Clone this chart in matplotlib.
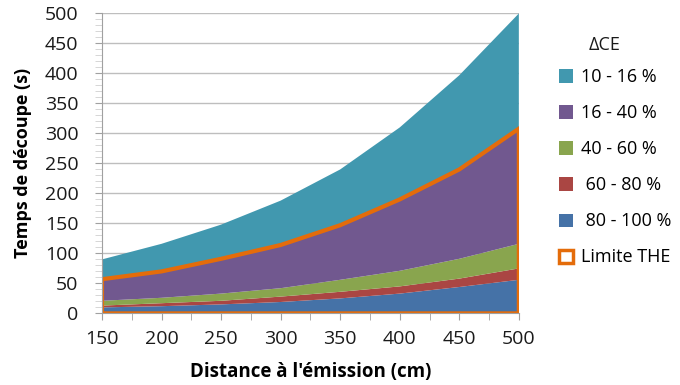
import matplotlib
matplotlib.use("Agg")
import matplotlib.pyplot as plt
from matplotlib.patches import Patch
from matplotlib.ticker import MultipleLocator
import numpy as np

plt.rcParams['font.family'] = ['Open Sans', 'DejaVu Sans']

distances = [150, 200, 250, 300, 350, 400, 450, 500]
s_80_100 = [10, 12, 15, 19, 25, 33, 44, 56]
s_60_80 = [3, 5, 6, 9, 11, 12, 14, 19]
s_40_60 = [8, 9, 12, 14, 20, 26, 33, 41]
s_16_40 = [36, 44, 58, 72, 91, 119, 149, 192]
s_10_16 = [33, 46, 57, 74, 93, 120, 157, 192]

labels = ["80 - 100 %", "60 - 80 %", "40 - 60 %", "16 - 40 %", "10 - 16 %"]
colors = ["#4572A7", "#AA4643", "#89A54E", "#71588F", "#4198AF"]
orange = "#E46C0A"

fig = plt.figure(figsize=(6.8, 3.85), dpi=100)
ax = fig.add_axes([0.15, 0.186, 0.613, 0.779])

series = [s_80_100, s_60_80, s_40_60, s_16_40, s_10_16]
ax.stackplot(distances, *series, colors=colors, linewidth=0, zorder=2)

# Limite THE outline: top of the 16-40 % layer
limit_top = np.sum(series[:4], axis=0)
xs = [distances[0]] + distances + [distances[-1], distances[0]]
ys = [0] + list(limit_top) + [0, 0]
ax.plot(xs, ys, color=orange, lw=3, solid_joinstyle='miter', zorder=3, clip_on=True)

ax.set_xlim(150, 500)
ax.set_ylim(0, 500)
ax.xaxis.set_major_locator(MultipleLocator(50))
ax.xaxis.set_minor_locator(MultipleLocator(25))
ax.yaxis.set_major_locator(MultipleLocator(50))
ax.yaxis.set_minor_locator(MultipleLocator(10))
ax.grid(axis='y', which='major', color='#BEBEBE', lw=1, zorder=1)
ax.set_axisbelow(True)

for side in ['top', 'right']:
    ax.spines[side].set_visible(False)
for side in ['left', 'bottom']:
    ax.spines[side].set_color('#A0A0A0')
    ax.spines[side].set_zorder(4)

ax.tick_params(axis='both', which='major', labelsize=14, color='#A0A0A0',
               length=5, direction='out', labelcolor='#1a1a1a')
ax.tick_params(axis='x', which='minor', color='#A0A0A0', length=5, direction='out')
ax.tick_params(axis='y', which='minor', color='#D0D0D0', length=5, direction='out')
ax.tick_params(axis='x', which='major', pad=7)
ax.tick_params(axis='y', which='major', pad=12)

ax.set_xlabel("Distance à l'émission (cm)", fontsize=13.5, fontweight='bold', labelpad=10)
ax.set_ylabel("Temps de découpe (s)", fontsize=13, fontweight='bold', labelpad=9)

handles = [Patch(facecolor=c, edgecolor='none') for c in colors[::-1]]
handles.append(Patch(facecolor='white', edgecolor=orange, lw=2.5))
leg_labels = ["10 - 16 %", "16 - 40 %", "40 - 60 %", " 60 - 80 %", " 80 - 100 %", "Limite THE"]
fig.text(605 / 680, 1 - 45 / 385, "ΔCE", fontsize=13, ha='center', va='center', color='#1a1a1a')
leg = fig.legend(handles, leg_labels, loc='upper left',
                 bbox_to_anchor=(0.812, 1 - 61 / 385), frameon=False, fontsize=13,
                 labelspacing=1.0, handlelength=0.75,
                 handleheight=0.75, handletextpad=0.45, borderaxespad=0)

fig.savefig("out.png", dpi=100)
